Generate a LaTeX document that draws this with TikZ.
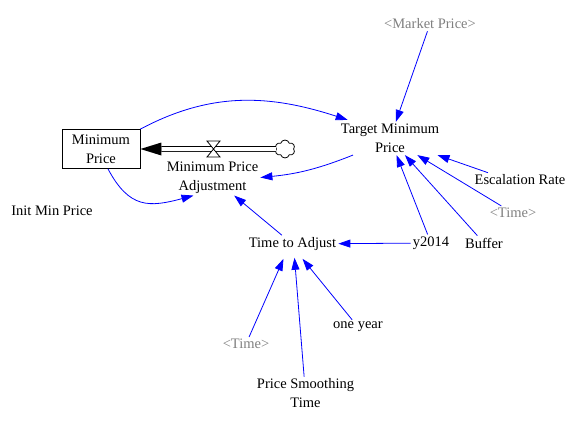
\documentclass[tikz,border=0pt]{standalone}
\usepackage{fontspec}
\setmainfont{Liberation Serif}
\usepackage{tikz}
\usetikzlibrary{arrows.meta,shapes.symbols}
\newcommand{\vtxt}{\fontsize{14.5}{19}\selectfont}
\definecolor{shadowgray}{RGB}{128,128,128}

\begin{document}
\begin{tikzpicture}[x=1pt,y=1pt,
	var/.style={font=\vtxt,align=center,inner sep=2pt},
	ghost/.style={var,text=shadowgray},
	stock/.style={var,draw,line width=0.8pt,minimum width=78pt,minimum height=39pt},
	link/.style={blue,line width=0.8pt,-{Triangle[length=12pt,width=8pt]}},
	pipe/.style={double,double distance=4pt,line width=0.8pt}]
	%	\draw[help lines] (0,-421) grid (582,0);
		\useasboundingbox (0,0) rectangle (582,-421);

		\node[stock] (mp) at (101,-149) {Minimum\\Price};
		\node[var] (imp) at (52,-211) {Init Min Price};
		\node[var] (mpa) at (212.5,-177.5) {Minimum Price\\Adjustment};
		\node[cloud,draw,fill=white,cloud puffs=6,aspect=1.1,minimum width=20pt,minimum height=18pt,inner sep=0pt,line width=0.8pt] (src) at (285,-149) {};
		\coordinate (vlv) at (213.5,-149);
		\node[var] (tmp) at (390,-138.5) {Target Minimum\\Price};
		\node[ghost] (mkt) at (430,-24) {\textless Market Price\textgreater};
		\node[var] (esc) at (520,-180) {Escalation Rate};
		\node[ghost] (tim1) at (513,-213) {\textless Time\textgreater};
		\node[var] (y14) at (431,-243) {y2014};
		\node[var] (buf) at (484,-243) {Buffer};
		\node[var] (tta) at (292.5,-244) {Time to Adjust};
		\node[var] (oy) at (358,-327) {one year};
		\node[ghost] (tim2) at (246,-344) {\textless Time\textgreater};
		\node[var] (pst) at (305.5,-393.5) {Price Smoothing\\Time};

		% flow
		\draw[pipe,shorten >=21pt] (src) -- (mp);
		\fill (mp.east) -- ++(21pt,6.5pt) -- ++(0,-13pt) -- cycle;
		\filldraw[fill=white,line width=0.8pt] (vlv) -- ++(-6.5,8) -- ++(13,0) -- cycle
			(vlv) -- ++(-6.5,-8) -- ++(13,0) -- cycle;

		% links
		\draw[link] (mp.north east) to[out=28,in=162] ([xshift=9pt,yshift=2pt]tmp.north west);
		\draw[link] ([xshift=7pt]mp.south) to[out=-62,in=195,looseness=1.3] ([xshift=-19pt]mpa.south);
		\draw[link] ([xshift=-37pt]tmp.south) to[bend left=8] (mpa.east);
		\draw[link] (tta) -- (mpa);
		\draw[link] (mkt) -- (tmp);
		\draw[link] ([xshift=-32pt]esc.north) -- (tmp);
		\draw[link] (tim1) -- (tmp);
		\draw[link] (buf) -- (tmp);
		\draw[link] (y14) -- (tmp);
		\draw[link] (y14) -- (tta);
		\draw[link] (tim2) -- ([xshift=-9pt,yshift=-6pt]tta.south);
		\draw[link] (pst) -- ([xshift=2pt,yshift=-5pt]tta.south);
		\draw[link] (oy) -- ([xshift=10pt,yshift=-6pt]tta.south);
\end{tikzpicture}
\end{document}
